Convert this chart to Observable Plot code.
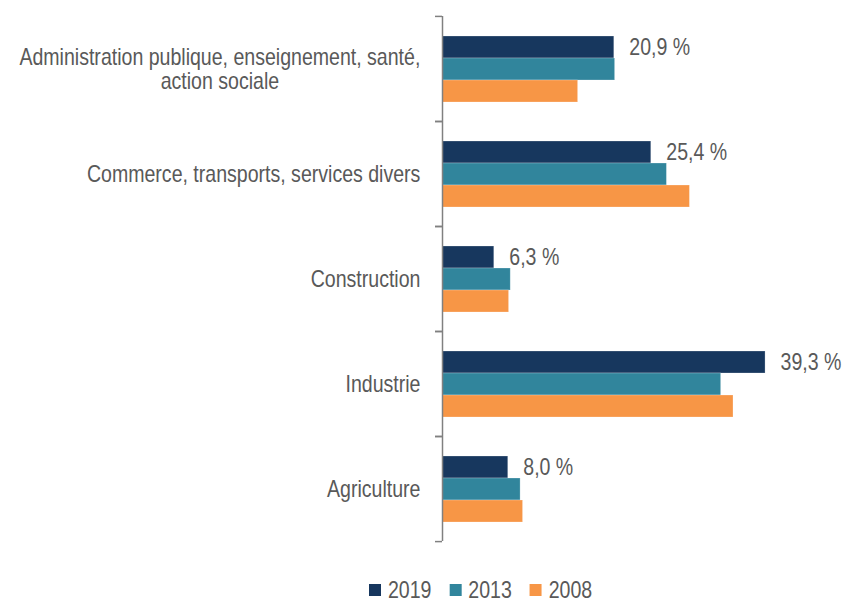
<!DOCTYPE html>
<html><head><meta charset="utf-8">
<script src="https://cdn.jsdelivr.net/npm/d3@7"></script>
<script src="https://cdn.jsdelivr.net/npm/@observablehq/plot@0.6"></script>
<style>
body{margin:0;background:#fff;font-family:"Liberation Sans","Arial",sans-serif;}
.lg-swatch{margin-right:22px !important;}
.lg-swatch > svg{margin-right:8.5px !important;}
</style></head><body><div id="chart"></div>
<script>
const categories = ["Administration publique, enseignement, santé,\naction sociale","Commerce, transports, services divers","Construction","Industrie","Agriculture"];
const series = ["2019","2013","2008"];
const values2019 = [20.9,25.4,6.3,39.3,8.0];
const values2013 = [21.0,27.3,8.3,33.9,9.5];
const values2008 = [16.5,30.1,8.1,35.4,9.8];
const colors = ["#17375e","#31859c","#f79646"];

const seriesValues = {"2019": values2019, "2013": values2013, "2008": values2008};
const rows = categories.flatMap((c, i) => series.map(s => ({cat: c, series: s, value: seriesValues[s][i]})));
const labelFormat = v => v.toFixed(1).replace(".", ",") + " %";

const fontFamily = '"Liberation Sans",Arial,sans-serif';
const FONT = 24;
const SX = 0.815; // horizontal condensing to imitate a narrow face
const W = 846, H = 565, mt = 15, mb = 24, ml = 442, mr = 4;
const pxPerPct = 8.22;
const xmax = (W - ml - mr) / pxPerPct;
const step = (H - mt - mb) / categories.length;

const ctx = document.createElement("canvas").getContext("2d");
ctx.font = `${FONT}px ${fontFamily}`;
const maxw = s => SX * Math.max(...s.split("\n").map(l => ctx.measureText(l).width));

const plot = Plot.plot({
  width: W, height: H, marginTop: mt, marginBottom: mb, marginLeft: ml, marginRight: mr,
  style: {fontFamily, fontSize: FONT + "px", color: "#595959", background: "#fff", overflow: "visible"},
  x: {domain: [0, xmax], axis: null},
  y: {domain: series, paddingInner: 0, paddingOuter: 0.8, axis: null},
  fy: {domain: categories, padding: 0, label: null},
  color: {domain: series, range: colors},
  marks: [
    Plot.barX(rows, {fy: "cat", y: "series", x: "value", fill: "series", stroke: "#fff", strokeOpacity: 0.35, strokeWidth: 0.7}),
    Plot.text(rows.filter(d => d.series === "2019"), {fy: "cat", y: "series", x: "value", text: d => labelFormat(d.value), textAnchor: "start", dx: 15, fill: "#595959", fontSize: FONT}),
    Plot.ruleX([0], {stroke: "#808080", strokeWidth: 1.5}),
    Plot.axisFy({anchor: "left", tickSize: 7, tickFormat: () => "", label: null, dy: -step / 2, stroke: "#808080", strokeWidth: 1.5}),
    Plot.axisFy({anchor: "left", tickSize: 7, tickFormat: () => "", label: null, dy: step / 2, stroke: "#808080", strokeWidth: 1.5}),
    ...categories.map(c => Plot.text([c], {fy: d => d, text: d => d, frameAnchor: "left", textAnchor: "middle", dx: -(22 + maxw(c) / 2), lineHeight: 1.04, fill: "#595959", fontSize: FONT}))
  ]
});
// condense every text horizontally around its own anchor
plot.querySelectorAll("text").forEach(el => {
  const t = el.getAttribute("transform") || "";
  el.setAttribute("transform", `${t} scale(${SX},1)`);
});
document.getElementById("chart").appendChild(plot);

const legend = Plot.legend({
  color: {domain: series, range: colors},
  legend: "swatches", swatchWidth: 12 / SX, swatchHeight: 12, className: "lg",
  style: {fontSize: FONT + "px", fontFamily, color: "#595959", marginLeft: "369px", marginTop: "8px",
          transform: `scaleX(${SX})`, transformOrigin: "0 50%", width: "max-content"}
});
document.getElementById("chart").appendChild(legend);
</script></body></html>
